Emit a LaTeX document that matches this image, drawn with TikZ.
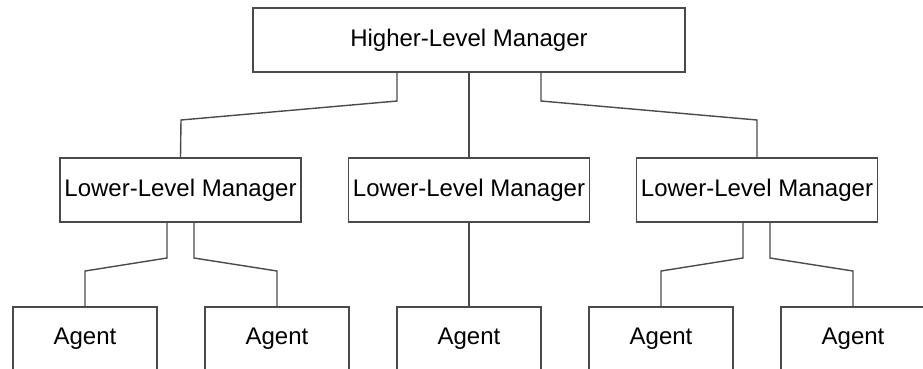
\documentclass[tikz,border=0pt]{standalone}
\usepackage{fontspec}
\setmainfont{Liberation Sans}
\begin{document}
\begin{tikzpicture}[x=1pt,y=-1pt,
  box/.style={draw=linegray, line width=1.4pt, fill=white, inner sep=0pt,
    minimum height=64pt, font=\fontsize{24}{28}\selectfont, text=black},
  topbox/.style={box, minimum width=432pt},
  midbox/.style={box, minimum width=241pt},
  agentbox/.style={box, minimum width=144pt},
  link/.style={draw=linegray, line width=1.4pt, line join=miter}]
\definecolor{linegray}{HTML}{4A4A4A}
\useasboundingbox (0,0) rectangle (923,368);
\clip (0,0) rectangle (923,368);

% tree nodes
\node[topbox] (hlm) at (469,40) {Higher-Level Manager};
\node[midbox] (llmA) at (180.5,190) {Lower-Level Manager};
\node[midbox] (llmB) at (469,190) {Lower-Level Manager};
\node[midbox] (llmC) at (757,190) {Lower-Level Manager};
\node[agentbox] (agA1) at (85,339) {Agent};
\node[agentbox] (agA2) at (277,339) {Agent};
\node[agentbox] (agB1) at (469,339) {Agent};
\node[agentbox] (agC1) at (661,339) {Agent};
\node[agentbox] (agC2) at (853,339) {Agent};

% higher-level manager to lower-level managers
\draw[link] (hlm.south -| 397,0) -- (397,101) -- (181,120) -- (llmA.north);
\draw[link] (hlm.south) -- (llmB.north);
\draw[link] (hlm.south -| 541,0) -- (541,101) -- (757,120) -- (llmC.north);

% lower-level managers to agents
\draw[link] (llmA.south -| 167,0) -- (167,258) -- (85,271) -- (agA1.north);
\draw[link] (llmA.south -| 194,0) -- (194,258) -- (277,271) -- (agA2.north);
\draw[link] (llmB.south) -- (agB1.north);
\draw[link] (llmC.south -| 743,0) -- (743,258) -- (661,271) -- (agC1.north);
\draw[link] (llmC.south -| 770,0) -- (770,258) -- (853,271) -- (agC2.north);
\end{tikzpicture}
\end{document}
